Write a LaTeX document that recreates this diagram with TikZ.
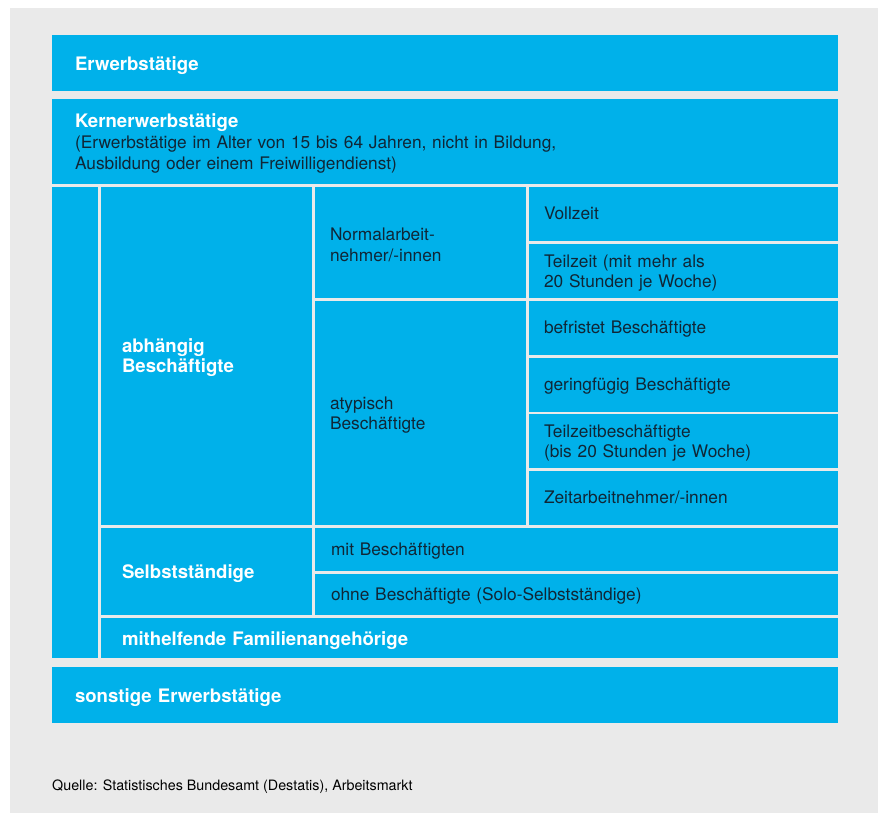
\documentclass[tikz,border=0pt]{standalone}
\usepackage{fontspec}
\setmainfont{TeX Gyre Heros}
\usepackage{xcolor}
\usepackage{tikz}
\usetikzlibrary{positioning}
\definecolor{destblue}{RGB}{0,177,234}
\definecolor{destgray}{RGB}{234,234,234}
\definecolor{desttext}{RGB}{16,38,54}
\newcommand{\headfont}{\fontsize{18.6}{20.5}\selectfont\bfseries}
\newcommand{\bodyfont}{\fontsize{17.3}{20.5}\selectfont}

\begin{document}
\begin{tikzpicture}[
  x=1pt, y=-1pt,
  cell/.style={rectangle, fill=destblue, anchor=north west, inner sep=0pt,
    outer sep=0pt, align=left, text height=17pt},
  headcell/.style={cell, font=\headfont, text=white},
  subcell/.style={cell, font=\bodyfont, text=desttext},
  headline/.style={text height=18pt, text depth=4pt},
  subline/.style={text height=13pt, text depth=1.5pt}
]
  \useasboundingbox (0,0) rectangle (880,814);
  \fill[destgray] (10,8) rectangle (878,813);

  % top rows
  \node[headcell, headline, minimum width=786, minimum height=56, text width=740]
    (erw) at (52,35) {Erwerbstätige};
  \node[subcell, minimum width=786, minimum height=85, text width=740]
    (kern) at (52,99) {{\headfont\color{white}Kernerwerbstätige}\\[1pt]
      (Erwerbstätige im Alter von 15 bis 64 Jahren, nicht in Bildung,\\
      Ausbildung oder einem Freiwilligendienst)};

  % left column and second level
  \node[cell, minimum width=46, minimum height=471] (rand) at (52,187) {};
  \node[headcell, minimum width=211, minimum height=338, text width=169]
    (abh) at (101,187) {abhängig\\Beschäftigte};
  \node[headcell, headline, minimum width=211, minimum height=87, text width=169]
    (selbst) at (101,528) {Selbstständige};
  \node[headcell, headline, minimum width=737, minimum height=40, text width=695]
    (mithelf) at (101,618) {mithelfende Familienangehörige};

  % third level
  \node[subcell, minimum width=211, minimum height=111, text width=181]
    (normal) at (315,187) {Normalarbeit-\\nehmer/-innen};
  \node[subcell, minimum width=211, minimum height=224, text width=181]
    (atyp) at (315,301) {atypisch\\Beschäftigte};
  \node[subcell, subline, minimum width=523, minimum height=43, text width=491]
    (mitb) at (315,528) {mit Beschäftigten};
  \node[subcell, subline, minimum width=523, minimum height=41, text width=491]
    (ohneb) at (315,574) {ohne Beschäftigte (Solo-Selbstständige)};

  % right column
  \foreach \n/\y/\s/\t in {voll/187/subline/{Vollzeit},
      teil/244/cell/{Teilzeit (mit mehr als\\20 Stunden je Woche)},
      befr/301/subline/{befristet Beschäftigte},
      gering/358/subline/{geringfügig Beschäftigte},
      tzb/414/cell/{Teilzeitbeschäftigte\\(bis 20 Stunden je Woche)},
      zeit/471/subline/{Zeitarbeitnehmer/-innen}} {
    \node[subcell, \s, minimum width=309, minimum height=54, text width=279]
      (\n) at (529,\y) {\t};
  }

  % bottom row
  \node[headcell, headline, minimum width=786, minimum height=56, text width=740]
    (sonst) at (52,667) {sonstige Erwerbstätige};

  \node[anchor=base west, inner sep=0pt, font=\fontsize{14.3}{17}\selectfont,
    text=black] (quelle) at (52,790)
    {Quelle: Statistisches Bundesamt (Destatis), Arbeitsmarkt};
\end{tikzpicture}
\end{document}
